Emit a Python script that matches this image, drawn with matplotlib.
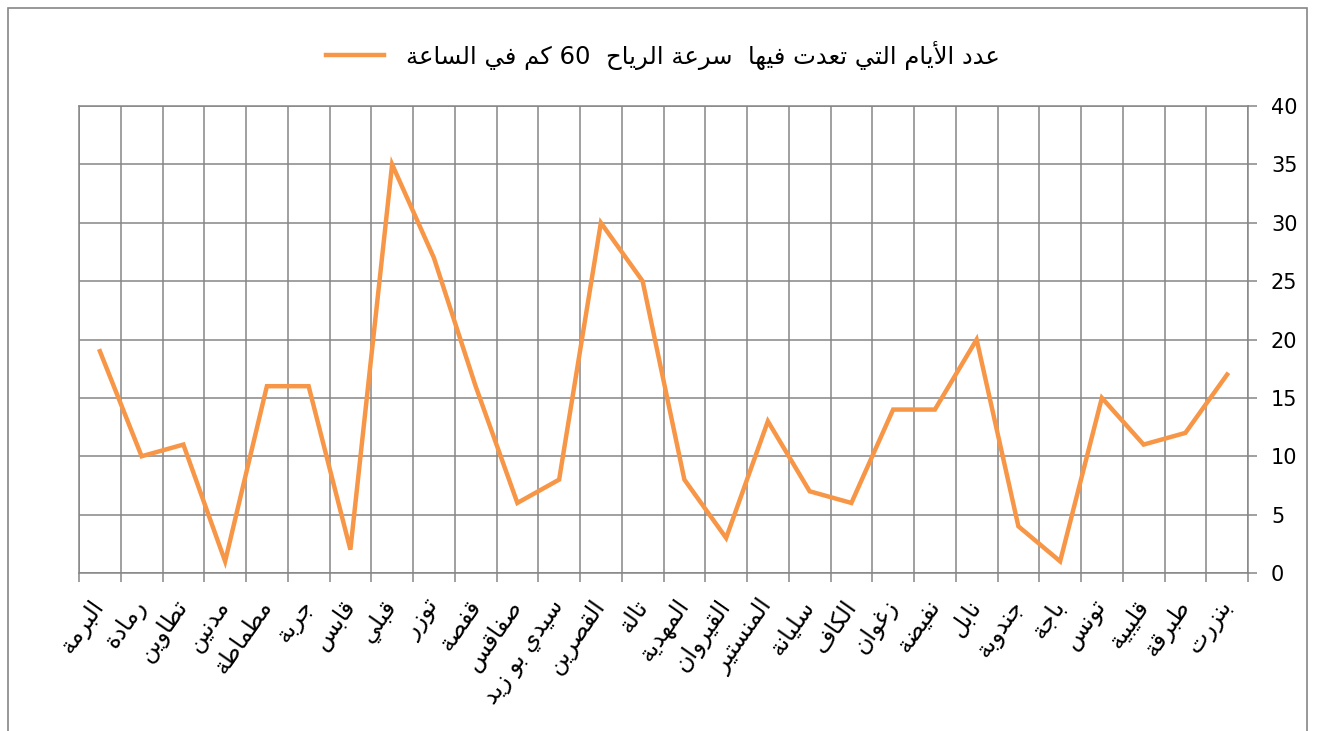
import re
import numpy as np
import matplotlib
matplotlib.use('Agg')
import matplotlib.pyplot as plt
from matplotlib.patches import Rectangle

stations = ['البرمة', 'رمادة', 'تطاوين', 'مدنين', 'مطماطة', 'جربة', 'قابس',
            'قبلي', 'توزر', 'قفصة', 'صفاقس', 'سيدي بو زيد', 'القصرين', 'تالة',
            'المهدية', 'القيروان', 'المنستير', 'سليانة', 'الكاف', 'زغوان',
            'نفيضة', 'نابل', 'جندوبة', 'باجة', 'تونس', 'قليبية', 'طبرقة', 'بنزرت']
days = [19, 10, 11, 1, 16, 16, 2, 35, 27, 16, 6, 8, 30, 25, 8, 3, 13, 7, 6,
        14, 14, 20, 4, 1, 15, 11, 12, 17]
series_name = 'عدد الأيام التي تعدت فيها  سرعة الرياح  60 كم في الساعة'
y_ticks = [0, 5, 10, 15, 20, 25, 30, 35, 40]

# matplotlib has no arabic shaping, so do a small one by hand
# (presentation forms B: isolated, final, initial, medial)
DUAL = {'ب': 0xFE8F, 'ت': 0xFE95, 'ج': 0xFE9D, 'ح': 0xFEA1, 'س': 0xFEB1,
        'ص': 0xFEB9, 'ض': 0xFEBD, 'ط': 0xFEC1, 'ع': 0xFEC9, 'غ': 0xFECD,
        'ف': 0xFED1, 'ق': 0xFED5, 'ك': 0xFED9, 'ل': 0xFEDD, 'م': 0xFEE1,
        'ن': 0xFEE5, 'ه': 0xFEE9, 'ي': 0xFEF1}
RIGHT = {'ا': 0xFE8D, 'أ': 0xFE83, 'ة': 0xFE93, 'د': 0xFEA9, 'ر': 0xFEAD,
         'ز': 0xFEAF, 'و': 0xFEED}
LAMALEF = {'ا': 0xFEFB, 'أ': 0xFEF7}


def shape(s):
    out = []
    n = len(s)
    prev_joins = False
    i = 0
    while i < n:
        c = s[i]
        if c == 'ل' and i + 1 < n and s[i + 1] in LAMALEF:
            out.append(chr(LAMALEF[s[i + 1]] + (1 if prev_joins else 0)))
            prev_joins = False
            i += 2
            continue
        if c in DUAL:
            nxt = i + 1 < n and (s[i + 1] in DUAL or s[i + 1] in RIGHT)
            if prev_joins:
                form = 3 if nxt else 1
            else:
                form = 2 if nxt else 0
            out.append(chr(DUAL[c] + form))
            prev_joins = True
        elif c in RIGHT:
            out.append(chr(RIGHT[c] + (1 if prev_joins else 0)))
            prev_joins = False
        else:
            out.append(c)
            prev_joins = False
        i += 1
    vis = ''.join(out)[::-1]
    return re.sub(r'\d+', lambda m: m.group()[::-1], vis)


plt.rcParams['font.family'] = ['DejaVu Sans']
grid_col = '#868686'

fig = plt.figure(figsize=(13.17, 7.31), dpi=100)
fig.patches.append(Rectangle((8 / 1317, -0.1), 1299 / 1317, 1.1 - 8 / 731,
                             transform=fig.transFigure, fill=False,
                             edgecolor=grid_col, linewidth=1.2))

ax = fig.add_axes([79 / 1317, 1 - 573 / 731, 1169 / 1317, 467 / 731])
x = np.arange(len(stations))
ax.plot(x, days, color='#F79646', linewidth=3.2, label=shape(series_name),
        solid_joinstyle='miter', zorder=3)

ax.set_xlim(-0.5, len(stations) - 0.5)
ax.set_ylim(0, 40)
ax.set_yticks(y_ticks)
ax.yaxis.tick_right()
ax.tick_params(axis='y', length=6.5, width=1.1, color=grid_col, pad=10,
               labelsize=15)

ax.set_xticks(x)
ax.set_xticklabels([shape(s) for s in stations], rotation=55, ha='right',
                   va='center', rotation_mode='anchor', fontsize=17)
ax.tick_params(axis='x', which='major', length=0, pad=21)
ax.set_xticks(np.arange(-0.5, len(stations)), minor=True)
ax.tick_params(axis='x', which='minor', length=6.5, width=1.1, color=grid_col)

ax.grid(True, which='minor', axis='x', color=grid_col, linewidth=1.1)
ax.grid(True, which='major', axis='y', color=grid_col, linewidth=1.1)
for sp in ax.spines.values():
    sp.set_color(grid_col)
    sp.set_linewidth(1.1)

fig.legend(loc='center', bbox_to_anchor=(663 / 1317, 1 - 55 / 731),
           frameon=False, fontsize=17.5, handlelength=2.4, handletextpad=0.9)

fig.savefig('out.png', dpi=100)
